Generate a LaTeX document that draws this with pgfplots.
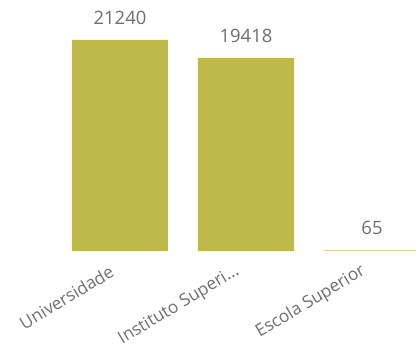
\documentclass[border=0pt]{standalone}
\usepackage{pgfplots}
\pgfplotsset{compat=1.18}
\usepackage{fontspec}
\setmainfont{Open Sans}
\definecolor{barcol}{RGB}{191,185,74}
\definecolor{txt}{RGB}{110,110,110}
\begin{document}
\begin{tikzpicture}
\useasboundingbox (0,0) rectangle (416bp,359bp);
\begin{axis}[
  at={(0,108bp)}, anchor=south west,
  scale only axis, width=416bp, height=251bp,
  xmin=-0.952, xmax=2.349, ymin=0, ymax=25266,
  axis line style={draw=none},
  major tick length=0pt,
  ytick=\empty,
  xtick={0,1,2},
  xticklabels={{Universidade},{Instituto Superi{.}{.}{.}},{Escola Superior}},
  xticklabel style={xshift=-8bp, yshift=-19bp, rotate=31, anchor=east, inner sep=0pt, font=\fontsize{17.3}{20}\selectfont, text=txt},
  ybar, bar width=96bp,
  nodes near coords,
  nodes near coords style={font=\fontsize{18.5}{21}\selectfont, text=txt, yshift=12bp},
  /pgf/number format/1000 sep={},
  /pgf/number format/assume math mode=true,
]
\addplot[fill=barcol, draw=none] coordinates {(0,21240) (1,19418) (2,65)};
\end{axis}
\end{tikzpicture}
\end{document}
